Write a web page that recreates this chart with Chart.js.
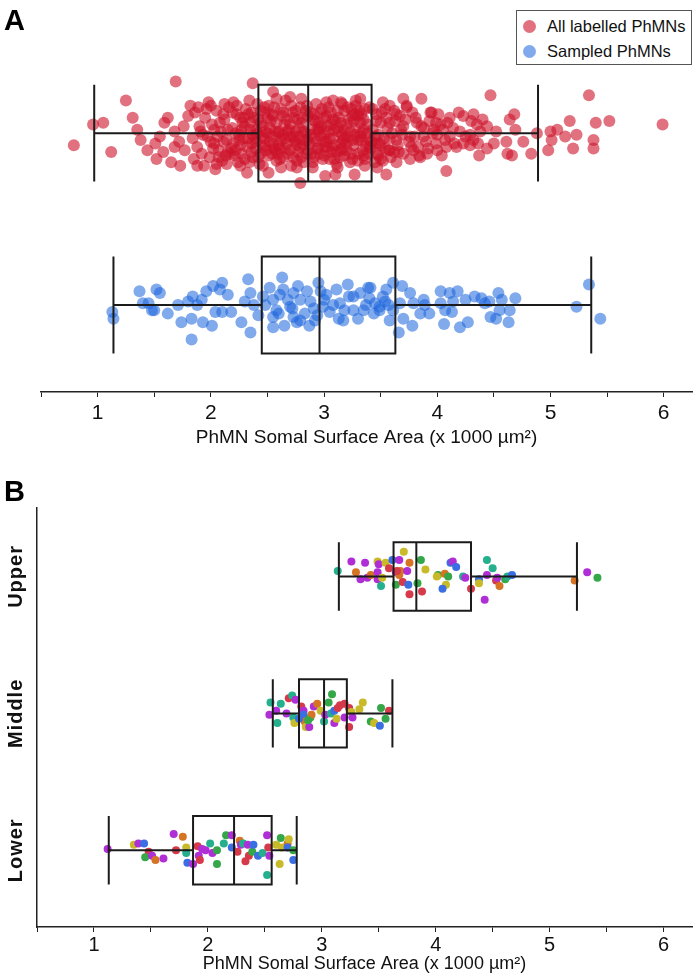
<!DOCTYPE html>
<html>
<head>
<meta charset="utf-8">
<script src="https://cdn.jsdelivr.net/npm/chart.js@4.4.1/dist/chart.umd.min.js"></script>
<style>
  body { margin: 0; background: #fff; }
  #page { position: relative; width: 700px; height: 977px; overflow: hidden; font-family: "Liberation Sans", Arial, sans-serif; }
  .tag { position: absolute; left: 4px; font-weight: bold; font-size: 29px; line-height: 1; color: #000; }
  #wrapA { position: absolute; left: 0; top: 0; width: 700px; height: 450px; }
  #wrapB { position: absolute; left: 0; top: 470px; width: 700px; height: 507px; }
  .legend { position: absolute; left: 516px; top: 10px; width: 176px; height: 55px; border: 1px solid #555; background: #fff; box-sizing: border-box; }
  .legend div { position: absolute; left: 30px; font-size: 16.5px; color: #111; white-space: nowrap; }
  .legend span { position: absolute; left: -24px; top: 3px; width: 13px; height: 13px; border-radius: 50%; }
</style>
</head>
<body>
<div id="page">
  <div id="wrapA"><canvas id="chartA" width="700" height="450"></canvas></div>
  <div id="wrapB"><canvas id="chartB" width="700" height="507"></canvas></div>
  <div class="tag" style="top:6px">A</div>
  <div class="tag" style="top:477px">B</div>
  <div class="legend">
    <div style="top:6px"><span style="background:rgba(205,18,42,0.6)"></span>All labelled PhMNs</div>
    <div style="top:31px"><span style="background:rgba(25,100,220,0.55)"></span>Sampled PhMNs</div>
  </div>
</div>
<script>
const FONT = '"Liberation Sans", Arial, sans-serif';
const TICK_FONT = '"Liberation Sans Narrow", "Liberation Sans", Arial, sans-serif';
const axisTitle = 'PhMN Somal Surface Area (x 1000 µm²)';
const tickValues = [0.5, 1, 1.5, 2, 2.5, 3, 3.5, 4, 4.5, 5, 5.5, 6];

// panel A groups (top to bottom)
const groupsA = ['All labelled PhMNs', 'Sampled PhMNs'];
// box stats: min, q1, median, q3, max
const allStats = [0.97, 2.42, 2.86, 3.42, 4.89];
const sampledStats = [1.14, 2.45, 2.96, 3.63, 5.36];

// [area, vertical jitter]
const allLabelled = [
  [1.69,-0.30],[2.37,-0.29],[1.25,-0.19],[0.96,-0.05],[1.05,-0.06],[1.31,-0.09],[0.79,0.07],[1.12,0.11],[1.35,-0.02],[1.38,0.04],
  [1.44,0.10],[1.51,0.06],[1.52,0.15],[1.59,-0.06],[1.58,0.11],[1.65,0.17],[1.73,0.19],[1.82,-0.16],[1.68,-0.01],[1.68,0.08],
  [1.77,0.10],[1.88,0.19],[1.94,0.19],[2.04,0.21],[2.14,0.18],[2.32,0.23],[2.51,0.23],[2.79,0.29],[3.01,0.25],[3.10,0.24],
  [3.27,0.24],[2.76,0.20],[2.55,-0.24],[2.70,-0.21],[3.32,-0.20],[3.15,-0.18],[3.02,-0.18],[2.00,-0.16],[2.20,-0.18],
  [4.47,-0.22],[5.34,-0.22],[5.99,-0.05],[5.52,-0.07],[5.40,-0.06],[5.17,-0.07],[5.23,0.01],[5.13,0.02],[5.06,-0.02],[5.00,-0.01],
  [5.01,0.04],[5.38,0.04],[5.38,0.09],[5.20,0.09],[4.98,0.10],[4.88,0.00],[4.83,0.12],[4.76,0.05],[4.68,-0.11],[4.64,-0.08],
  [4.69,-0.02],[4.61,0.05],[4.62,0.12],[4.66,0.13],[4.52,-0.01],[4.50,0.06],[4.44,0.09],[4.37,0.13],[4.08,0.22],[3.55,0.24],
  [3.70,-0.20],[3.86,-0.20],[3.58,-0.16],[4.32,-0.11],[4.40,-0.08],[4.23,-0.10],[4.11,-0.09],[3.94,-0.12],[4.01,-0.11],[4.23,0.06],
  [4.29,0.07],[4.17,0.08],[4.08,0.08],[3.99,0.06],[3.91,0.12],[3.79,0.10],[3.76,0.15],[3.85,0.14],[3.52,0.16],[3.47,0.20],
  [4.38,-0.01],[4.44,-0.04],[4.35,-0.05],[4.14,-0.03],[4.05,-0.02],[3.73,-0.15],[3.64,-0.11],[3.58,-0.06],[3.70,-0.04],[3.82,-0.06],
  [3.76,0.02],[3.64,0.04],[3.88,0.02],[3.97,-0.02],[3.99,-0.06],[4.11,0.02],[4.20,-0.01],[4.29,0.01],[4.32,0.04],[3.58,0.10],
  [3.49,0.06],[3.47,0.12],
  [1.80,-0.10],[1.84,0.03],[1.86,-0.12],[1.88,0.08],[1.90,-0.04],[1.92,0.12],[1.95,-0.09],[1.97,0.02],[1.99,0.14],[2.01,-0.05],
  [2.03,0.06],[2.05,-0.13],[2.07,0.10],[2.09,-0.01],[2.10,0.16],[2.12,-0.08],[2.14,0.04],[2.16,-0.15],[2.18,0.09],[2.19,-0.03],
  [2.21,0.13],[2.23,-0.11],[2.25,0.01],[2.26,0.07],[2.28,-0.06],[2.30,0.15],[2.31,-0.14],[2.33,0.03],[2.35,-0.02],[2.36,0.11],
  [2.38,-0.09],[2.40,0.05],[2.41,-0.17],[2.43,0.18],[2.45,-0.04],[2.46,0.08],[2.48,-0.12],[2.50,0.00],[2.51,0.13],[2.53,-0.07],
  [2.55,0.06],[2.56,-0.15],[2.58,0.16],[2.60,-0.01],[2.61,0.09],[2.63,-0.10],[2.65,0.03],[2.66,-0.19],[2.68,0.12],[2.70,-0.05],
  [2.71,0.19],[2.73,0.02],[2.75,-0.13],[2.76,0.07],[2.78,-0.03],[2.80,0.14],[2.81,-0.09],[2.83,0.04],[2.85,-0.16],[2.86,0.10],
  [2.88,-0.02],[2.90,0.17],[2.91,-0.11],[2.93,0.05],[2.95,-0.06],[2.96,0.12],[2.98,-0.14],[3.00,0.01],[3.01,0.08],[3.03,-0.04],
  [3.05,0.15],[3.06,-0.12],[3.08,0.03],[3.10,-0.07],[3.11,0.11],[3.13,-0.01],[3.15,0.06],[3.16,-0.17],[3.18,0.13],[3.20,-0.05],
  [3.21,0.02],[3.23,0.17],[3.25,-0.10],[3.26,0.07],[3.28,-0.03],[3.30,0.12],[3.31,-0.13],[3.33,0.04],[3.35,-0.08],[3.36,0.15],
  [3.38,0.00],[3.40,-0.15],[3.41,0.09],[3.43,-0.02],[3.45,0.06],[3.46,-0.11],[3.48,0.13],[3.50,-0.06],[3.53,0.03],[3.55,-0.09],
  [3.57,0.10],[3.60,0.00],[3.62,-0.13],[3.65,0.07],[3.68,-0.02],[3.70,0.12],[3.72,-0.08],[3.75,0.05],[3.78,-0.12],[3.80,0.02],
  [3.83,0.08],[3.86,-0.04],[3.90,0.05],[3.93,-0.07],[3.96,0.00],[4.00,0.10],[4.03,-0.05],[4.07,0.04],
  [2.22,0.00],[2.27,-0.02],[2.32,0.08],[2.37,0.01],[2.42,-0.08],[2.47,0.03],[2.52,-0.03],[2.57,0.10],[2.62,0.04],[2.67,-0.08],
  [2.72,-0.12],[2.77,0.11],[2.82,-0.01],[2.87,0.06],[2.92,-0.07],[2.97,0.02],[3.02,-0.10],[3.07,0.09],[3.12,-0.03],[3.17,0.04],
  [3.22,-0.08],[3.27,0.01],[3.32,-0.06],[3.37,0.07],[2.44,0.12],[2.54,-0.11],[2.64,0.14],[2.74,0.05],[2.84,-0.13],[2.94,0.09],
  [3.04,-0.01],[3.14,0.14],[3.24,-0.14],[3.34,0.10],[2.06,0.02],[2.11,-0.11],[2.17,0.12],[2.24,0.17],[1.93,0.01],[1.96,-0.14],
  [1.76,-0.04],[1.72,0.05],[1.62,-0.09],[1.55,0.02],
  [1.98,-0.18],[2.02,0.09],[2.08,-0.06],[2.13,0.13],[2.15,-0.02],[2.20,0.06],[2.23,-0.16],[2.27,0.12],[2.29,-0.09],[2.34,0.17],
  [2.36,-0.12],[2.39,0.03],[2.42,0.14],[2.44,-0.06],[2.47,-0.15],[2.49,0.10],[2.52,0.05],[2.55,-0.10],[2.57,-0.01],[2.59,0.12],
  [2.62,-0.14],[2.64,0.01],[2.66,0.09],[2.69,-0.02],[2.71,-0.16],[2.73,0.14],[2.75,0.04],[2.77,-0.08],[2.79,0.08],[2.82,0.17],
  [2.84,0.00],[2.86,-0.10],[2.89,0.12],[2.91,0.03],[2.93,-0.17],[2.95,0.09],[2.97,-0.04],[2.99,0.15],[3.02,0.05],[3.04,-0.15],
  [3.06,0.11],[3.09,-0.02],[3.11,0.18],[3.13,-0.09],[3.16,0.01],[3.18,-0.13],[3.20,0.10],[3.23,-0.01],[3.25,0.15],[3.28,-0.16],
  [3.30,0.04],[3.33,-0.11],[3.35,0.13],[3.38,-0.05],[3.40,0.08],[3.43,-0.14],[3.45,0.17],[3.48,0.01],[3.51,-0.12],[3.54,0.09],
  [3.56,-0.03],[3.59,0.14],[3.63,-0.07],[3.66,0.11],[3.69,0.01],[3.73,-0.16],[3.77,0.08],[3.81,-0.09],[3.84,0.13],[3.88,-0.03],
  [3.92,0.09],[3.95,-0.12],[4.00,0.01],[4.04,0.13],[4.09,-0.06],[4.15,0.06],[4.19,-0.12],[4.25,0.02],[4.30,-0.07],[4.36,0.06],
  [2.25,0.04],[2.35,-0.06],[2.45,0.02],[2.55,0.02],[2.65,-0.05],[2.75,-0.01],[2.85,0.04],[2.95,-0.01],[3.05,0.03],[3.15,-0.06],
  [3.25,0.04],[3.35,-0.02],[3.45,0.02],[2.30,-0.04],[2.40,0.09],[2.50,-0.09],[2.60,0.07],[2.70,0.10],[2.80,-0.06],[2.90,-0.08],
  [3.00,-0.09],[3.10,0.07],[3.20,0.06],[3.30,-0.10],[3.40,0.04],[3.50,0.07],[1.85,0.15],[1.89,-0.15],[1.91,-0.01],[2.00,0.05],
  [2.03,-0.02],[2.07,0.14],[2.11,0.05],[2.15,0.11],[2.19,-0.12],[2.22,0.10],[2.26,-0.09],[2.29,0.03],[2.33,-0.11],[2.37,0.14],
  [2.41,0.00],[2.44,-0.13],[2.48,0.07],[2.51,-0.16],[2.54,0.12],[2.58,-0.06],[2.61,0.15],[2.64,-0.12],[2.67,0.06],[2.70,0.02],
  [2.73,-0.09],[2.76,0.16],[2.79,-0.15],[2.82,0.07],[2.85,0.12],[2.88,-0.12],[2.91,0.14],[2.94,-0.02],[2.97,-0.12],[3.00,0.13],
  [3.03,0.08],[3.06,-0.05],[3.09,0.15],[3.12,-0.13],[3.15,0.10],[3.18,-0.02],[3.21,-0.15],[3.24,0.12],[3.27,-0.11],[3.30,0.16],
  [3.33,0.00],[3.36,-0.14],[3.39,0.12],[3.42,0.05],[3.46,-0.07],[3.50,0.15],[3.54,-0.14],[3.58,0.03],[3.62,0.11],[3.67,-0.10],
  [2.26,0.19],[2.46,0.19],[2.62,0.20],[2.90,0.20],[3.12,0.20],[3.36,0.19],[2.34,-0.19],[2.58,-0.20],[2.80,-0.20],[3.08,-0.19],
  [3.28,-0.19],[2.12,-0.17],[2.05,0.18],[3.52,-0.18],[3.64,0.17],[2.40,-0.02],[2.60,0.00],[2.78,0.02],[3.00,0.05],[3.18,0.03],
  [3.32,0.02],[2.48,-0.01],[2.68,-0.01],[2.88,0.01],[3.08,-0.08],[3.26,-0.07],[2.36,0.06],[2.56,0.09],[2.96,-0.03],[3.16,0.09]
];

const sampled = [
  [1.13,0.04],[1.14,0.08],[1.37,-0.08],[1.40,-0.01],[1.45,-0.01],[1.48,0.03],[1.52,-0.09],[1.55,-0.07],[1.50,0.03],[1.62,0.05],
  [1.71,0.00],[1.74,0.10],[1.83,0.08],[1.83,0.20],[1.80,-0.02],[1.84,-0.05],[1.88,0.00],[1.92,-0.03],[1.93,0.10],[2.01,0.12],
  [1.96,-0.08],[2.02,-0.11],[2.10,-0.13],[2.08,-0.09],[2.15,-0.06],[2.04,0.04],[2.10,0.04],[2.18,0.04],[2.27,0.10],[2.35,0.16],
  [2.33,-0.15],[2.35,-0.07],[2.30,-0.02],[2.38,0.00],[2.42,0.06],[2.46,-0.05],[2.55,-0.03],[2.63,-0.16],[2.64,-0.09],[2.73,-0.07],
  [2.77,-0.11],[2.85,-0.08],[2.79,-0.03],[2.70,0.01],[2.58,0.03],[2.55,0.07],[2.73,0.07],[2.79,0.09],[2.55,0.13],[2.65,0.12],
  [2.76,0.10],[2.87,0.12],[2.92,0.09],[2.95,-0.13],[2.91,0.02],[2.99,0.01],[3.02,-0.06],[3.11,-0.09],[3.21,-0.12],[3.14,-0.01],
  [3.13,0.08],[3.17,0.09],[3.26,-0.05],[3.32,-0.07],[3.39,-0.10],[3.26,0.03],[3.35,0.03],[3.45,-0.01],[3.49,0.01],[3.05,0.04],
  [3.41,-0.10],[3.55,-0.09],[3.54,-0.02],[3.49,0.03],[3.61,-0.13],[3.69,-0.11],[3.76,-0.07],[3.58,0.09],[3.66,0.16],[3.70,0.08],
  [3.61,0.03],[3.67,-0.01],[3.79,-0.01],[3.78,0.12],[3.88,-0.03],[3.85,0.05],[3.93,0.05],[3.89,0.00],[4.03,-0.08],[4.11,-0.07],
  [4.18,-0.08],[4.03,-0.01],[4.14,-0.02],[4.07,0.03],[4.13,0.04],[4.06,0.11],[4.20,0.13],[4.27,0.10],[4.25,-0.03],[4.33,-0.05],
  [4.39,-0.04],[4.42,-0.01],[4.46,-0.02],[4.54,-0.07],[4.57,-0.03],[4.55,0.03],[4.64,0.03],[4.69,-0.04],[4.47,0.07],[4.52,0.08],
  [4.63,0.10],[5.23,0.01],[5.34,-0.12],[5.44,0.08],
  [2.48,0.00],[2.52,-0.10],[2.60,0.05],[2.68,-0.03],[2.72,0.02],[2.83,0.05],[2.88,-0.02],[2.97,-0.08],[3.08,0.00],[3.18,0.03],
  [3.22,-0.05],[3.30,0.08],[3.37,0.00],[3.44,0.05],[3.52,-0.05],[3.57,0.00],[2.61,-0.06],[2.94,0.06],[3.00,-0.03],[3.40,-0.04]
];

// panel B: rat level groups, top to bottom
const levels = ['Upper', 'Middle', 'Lower'];
const upperStats = [3.15, 3.63, 3.83, 4.31, 5.24];
const middleStats = [2.57, 2.80, 3.02, 3.22, 3.62];
const lowerStats = [1.13, 1.87, 2.23, 2.56, 2.78];

// [area, vertical jitter, animal]
const upperCells = [
  [3.14,-0.04,4],[3.26,-0.11,0],[3.38,-0.10,0],[3.30,-0.03,1],[3.34,0.02,0],[3.40,0.01,0],[3.43,-0.01,1],[3.49,-0.11,2],[3.50,-0.09,0],[3.49,-0.03,0],
  [3.49,0.02,0],[3.52,0.07,4],[3.53,0.01,2],[3.56,-0.10,2],[3.59,-0.06,6],[3.62,-0.12,5],[3.65,0.06,3],[3.65,-0.03,0],[3.68,-0.12,0],[3.69,-0.04,1],
  [3.68,-0.01,1],[3.71,0.04,6],[3.72,-0.18,2],[3.75,-0.04,0],[3.77,-0.10,1],[3.76,0.06,5],[3.77,0.13,6],[3.84,0.05,3],[3.87,-0.12,3],[3.88,0.11,6],
  [3.91,-0.05,2],[4.02,-0.01,3],[4.01,0.00,2],[4.08,-0.02,1],[4.11,0.00,3],[4.09,0.06,2],[4.06,0.09,5],[4.13,-0.10,5],[4.15,-0.11,0],[4.18,-0.07,5],
  [4.24,0.00,4],[4.26,0.01,0],[4.31,0.09,6],[4.38,0.02,5],[4.38,0.05,2],[4.45,-0.12,4],[4.45,-0.01,0],[4.50,-0.06,4],[4.43,0.17,0],[4.53,0.03,6],
  [4.54,0.01,0],[4.56,0.07,1],[4.61,0.02,3],[4.63,0.00,4],[4.67,-0.01,5],[5.22,0.03,1],[5.33,-0.03,0],[5.42,0.01,3],[3.66,-0.04,6]
];
const middleCells = [
  [2.55,-0.08,4],[2.54,0.01,0],[2.61,0.07,4],[2.60,-0.02,0],[2.64,-0.07,4],[2.69,0.00,0],[2.71,-0.11,6],[2.74,-0.13,4],[2.77,-0.10,0],[2.75,0.03,4],
  [2.76,0.07,2],[2.82,-0.05,6],[2.84,-0.02,0],[2.84,0.01,5],[2.85,0.06,1],[2.86,0.10,2],[2.89,0.10,0],[2.90,0.03,3],[2.91,0.01,1],[2.93,-0.05,0],
  [2.96,-0.07,1],[2.99,-0.02,2],[3.02,0.06,4],[3.03,0.01,0],[3.06,-0.08,3],[3.09,-0.14,3],[3.08,0.00,4],[3.11,-0.02,5],[3.11,0.07,0],[3.13,0.04,2],
  [3.14,-0.04,6],[3.16,-0.06,6],[3.20,-0.07,6],[3.20,0.03,0],[3.24,-0.04,6],[3.24,0.10,6],[3.26,-0.01,2],[3.27,0.03,0],[3.33,-0.03,2],[3.36,-0.08,2],
  [3.43,0.06,3],[3.46,0.07,2],[3.51,0.09,5],[3.52,-0.04,3],[3.56,0.04,3],[3.59,-0.02,6],[2.80,0.04,5],[2.88,0.05,3]
];
const lowerCells = [
  [1.12,-0.01,0],[1.35,-0.04,2],[1.39,-0.05,0],[1.44,-0.05,5],[1.48,0.01,6],[1.45,0.05,3],[1.51,0.04,0],[1.54,0.07,1],[1.61,0.06,0],[1.70,-0.12,0],
  [1.78,-0.10,1],[1.72,0.00,6],[1.81,-0.02,2],[1.81,0.02,4],[1.82,0.09,5],[1.87,0.10,0],[1.91,-0.03,6],[1.92,0.04,0],[1.93,0.07,6],[1.95,-0.01,0],
  [1.98,0.00,0],[2.02,-0.05,4],[2.04,0.02,0],[2.08,0.00,3],[2.08,0.10,3],[2.14,-0.05,4],[2.16,-0.11,3],[2.21,-0.11,0],[2.21,-0.02,5],[2.26,0.01,6],
  [2.28,-0.07,1],[2.29,-0.04,0],[2.31,-0.05,4],[2.33,0.08,6],[2.35,-0.04,0],[2.36,0.04,6],[2.39,0.01,3],[2.40,-0.04,5],[2.44,0.04,5],[2.48,0.02,4],
  [2.52,-0.11,0],[2.52,0.18,4],[2.53,-0.02,6],[2.54,0.04,0],[2.60,-0.04,2],[2.63,0.10,2],[2.64,-0.09,3],[2.65,-0.02,2],[2.70,-0.05,1],[2.71,-0.08,2],
  [2.70,-0.02,5],[2.75,0.07,5],[2.75,0.00,3]
];
const animalColors = ['rgb(176,46,214)', 'rgb(214,116,36)', 'rgb(200,186,40)', 'rgb(52,168,72)', 'rgb(36,176,140)', 'rgb(58,110,226)', 'rgb(214,58,74)'];

const toPoints = (rows, pos) => rows.map(r => ({x: r[0], y: pos + r[1]}));

// box plot drawn from the stats arrays through the chart scales
const boxPlugin = {
  id: 'boxes',
  afterDatasetsDraw(chart, args, opts) {
    const {ctx, scales: {x, y}} = chart;
    ctx.save();
    ctx.strokeStyle = '#1b1b1b';
    ctx.lineWidth = 2;
    opts.stats.forEach((s, i) => {
      const yc = y.getPixelForValue(i);
      const yt = y.getPixelForValue(i - opts.half);
      const yb = y.getPixelForValue(i + opts.half);
      const [mn, q1, md, q3, mx] = s.map(v => x.getPixelForValue(v));
      ctx.beginPath();
      ctx.moveTo(mn, yc); ctx.lineTo(q1, yc);
      ctx.moveTo(q3, yc); ctx.lineTo(mx, yc);
      ctx.moveTo(mn, yt); ctx.lineTo(mn, yb);
      ctx.moveTo(mx, yt); ctx.lineTo(mx, yb);
      ctx.rect(q1, yt, q3 - q1, yb - yt);
      ctx.moveTo(md, yt); ctx.lineTo(md, yb);
      ctx.stroke();
    });
    ctx.restore();
  }
};

// category names on the left of panel B
const levelLabels = {
  id: 'levelLabels',
  afterDraw(chart, args, opts) {
    if (!opts.labels) return;
    const {ctx, scales: {y}} = chart;
    ctx.save();
    ctx.fillStyle = '#111';
    ctx.font = 'bold 20px ' + FONT;
    ctx.letterSpacing = '1px';
    ctx.textAlign = 'center';
    ctx.textBaseline = 'middle';
    opts.labels.forEach((t, i) => {
      ctx.save();
      ctx.translate(opts.x, y.getPixelForValue(i));
      ctx.rotate(-Math.PI / 2);
      ctx.fillText(t, 0, 0);
      ctx.restore();
    });
    ctx.restore();
  }
};

function xAxis(height, tickSize, tickPad, titleSize, titlePad) {
  return {
    type: 'linear', min: 0.5, max: 6.25,
    border: {display: true, color: '#222', width: 1.5},
    grid: {drawOnChartArea: false, drawTicks: true, tickLength: 5, color: '#222', lineWidth: 1},
    ticks: {
      autoSkip: false, maxRotation: 0, padding: tickPad, color: '#111',
      font: {size: tickSize, family: TICK_FONT},
      callback: v => Number.isInteger(v) ? v : ''
    },
    afterBuildTicks: s => { s.ticks = tickValues.map(v => ({value: v})); },
    title: {display: true, text: axisTitle, color: '#111', font: {size: titleSize, family: FONT}, padding: {top: 0, bottom: titlePad}},
    afterFit: s => { s.height = height; }
  };
}

new Chart(document.getElementById('chartA'), {
  type: 'scatter',
  data: {
    datasets: [
      {label: groupsA[0], data: toPoints(allLabelled, 0), backgroundColor: 'rgba(205,18,42,0.6)', borderWidth: 0, pointRadius: 6},
      {label: groupsA[1], data: toPoints(sampled, 1), backgroundColor: 'rgba(25,100,220,0.55)', borderWidth: 0, pointRadius: 6}
    ]
  },
  options: {
    responsive: false, animation: false,
    layout: {padding: {left: 41, right: 8, top: 30, bottom: 0}},
    plugins: {legend: {display: false}, tooltip: {enabled: false},
      boxes: {stats: [allStats, sampledStats], half: 0.282}},
    scales: {
      x: xAxis(58, 21, 4, 19, 1),
      y: {display: false, reverse: true, min: -0.6, max: 1.506}
    }
  },
  plugins: [boxPlugin]
});

const cellSets = [upperCells, middleCells, lowerCells];
new Chart(document.getElementById('chartB'), {
  type: 'scatter',
  data: {
    datasets: cellSets.map((rows, i) => ({
      label: levels[i],
      data: toPoints(rows, i),
      backgroundColor: rows.map(r => animalColors[r[2]]),
      borderWidth: 0, pointRadius: 4
    }))
  },
  options: {
    responsive: false, animation: false,
    layout: {padding: {left: 0, right: 8, top: 38, bottom: 0}},
    plugins: {legend: {display: false}, tooltip: {enabled: false},
      boxes: {stats: [upperStats, middleStats, lowerStats], half: 0.25},
      levelLabels: {labels: levels, x: 16}},
    scales: {
      x: xAxis(50, 20, 1, 18, 2),
      y: {
        reverse: true, min: -0.5, max: 2.56,
        border: {display: true, color: '#222', width: 1.5},
        grid: {display: false}, ticks: {display: false},
        afterFit: s => { s.width = 37; }
      }
    }
  },
  plugins: [boxPlugin, levelLabels]
});
</script>
</body>
</html>
